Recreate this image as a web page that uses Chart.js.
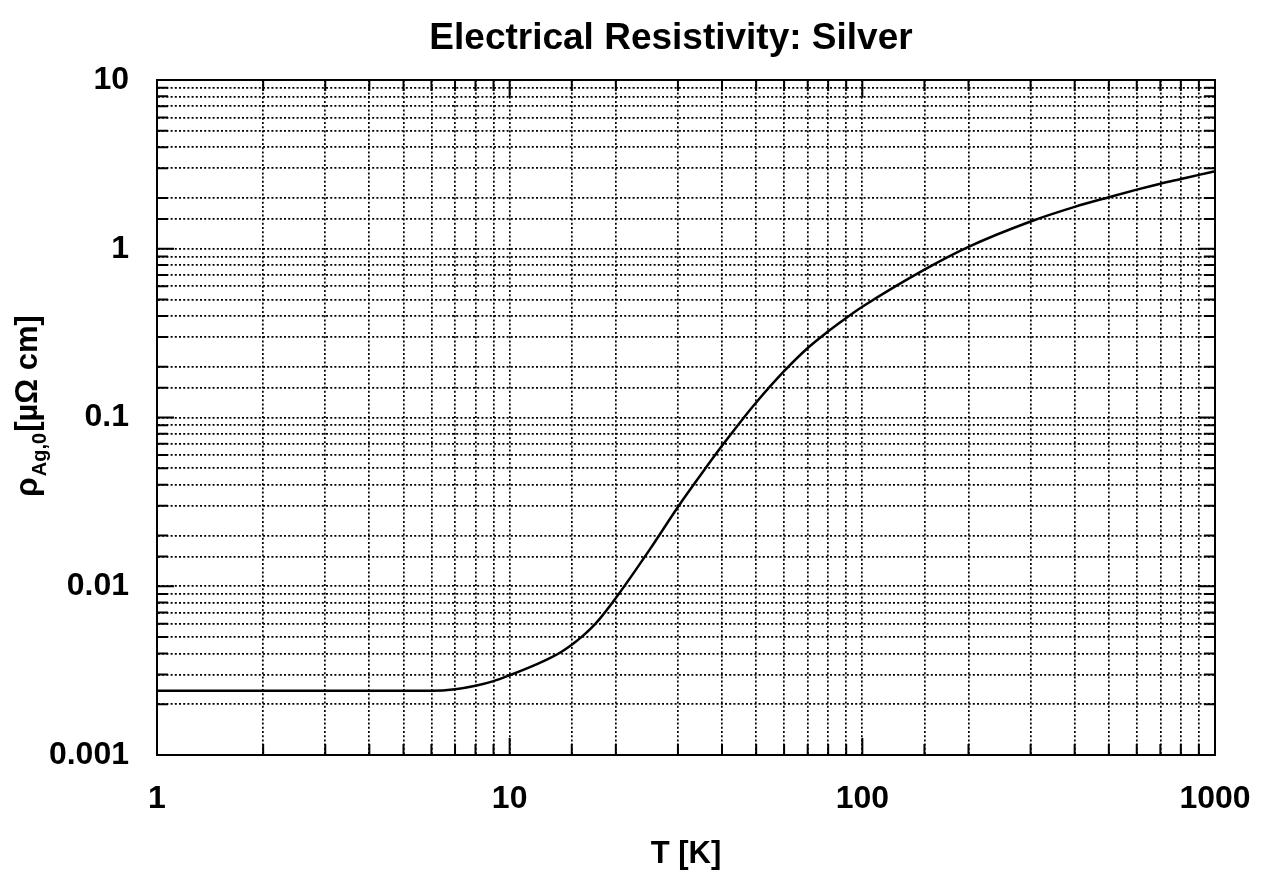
<!DOCTYPE html>
<html>
<head>
<meta charset="utf-8">
<title>Electrical Resistivity: Silver</title>
<script src="https://cdn.jsdelivr.net/npm/chart.js@4.4.1/dist/chart.umd.min.js"></script>
<style>
  html, body { margin: 0; padding: 0; background: #fff; }
  canvas { display: block; }
</style>
</head>
<body>
<canvas id="resistivityChart" width="1268" height="877"></canvas>
<script>
// temperature in K
const temperatures = [1, 2, 3, 4, 5, 6, 7, 8, 9, 10, 12, 13, 14, 15, 16, 17, 18, 20, 25, 30, 35, 40, 45, 50, 60, 70, 80, 90, 100, 150, 200, 300, 400, 500, 600, 700, 800, 900, 1000];
// resistivity of silver in µΩ cm
const resistivity = [0.00240, 0.00240, 0.00240, 0.00240, 0.00240, 0.00240, 0.00245, 0.00257, 0.00274, 0.00297, 0.00347, 0.00375, 0.00408, 0.0045, 0.00501, 0.00562, 0.00641, 0.00852, 0.0166, 0.0295, 0.0464, 0.0679, 0.0935, 0.1227, 0.188, 0.258, 0.324, 0.389, 0.453, 0.752, 1.026, 1.45, 1.77, 2.02, 2.24, 2.43, 2.59, 2.74, 2.88];

const xTickLabels = ['1', '10', '100', '1000'];
const yTickLabels = ['0.001', '0.01', '0.1', '1', '10'];

const titleText = 'Electrical Resistivity: Silver';
const xTitle = 'T [K]';
const FONT = '"Liberation Sans", Arial, Helvetica, sans-serif';

function isDecade(v) {
    const l = Math.log10(v);
    return Math.abs(l - Math.round(l)) < 1e-9;
}

function decadeLabel(list) {
    return function (value) {
        if (!isDecade(value)) return '';
        return list.find(s => Math.abs(Number(s) - value) < value * 1e-6) || '';
    };
}

// inward tick marks on all four sides, closed frame, title and the y axis label with subscript
const frameDecorations = {
    id: 'frameDecorations',
    afterDraw(chart) {
        const { ctx, chartArea, scales } = chart;
        const { left, right, top, bottom } = chartArea;
        ctx.save();
        ctx.strokeStyle = '#000';
        ctx.lineWidth = 2;
        ctx.beginPath();
        scales.x.ticks.forEach(t => {
            const px = scales.x.getPixelForValue(t.value);
            const len = isDecade(t.value) ? 17 : 11;
            ctx.moveTo(px, bottom); ctx.lineTo(px, bottom - len);
            ctx.moveTo(px, top); ctx.lineTo(px, top + len);
        });
        scales.y.ticks.forEach(t => {
            const py = scales.y.getPixelForValue(t.value);
            const len = isDecade(t.value) ? 17 : 11;
            ctx.moveTo(left, py); ctx.lineTo(left + len, py);
            ctx.moveTo(right, py); ctx.lineTo(right - len, py);
        });
        ctx.stroke();
        ctx.strokeRect(left, top, right - left, bottom - top);

        ctx.fillStyle = '#000';
        ctx.font = `bold 37px ${FONT}`;
        ctx.textAlign = 'center';
        ctx.textBaseline = 'alphabetic';
        ctx.fillText(titleText, (left + right) / 2 - 15, 49);

        ctx.translate(37, 497);
        ctx.rotate(-Math.PI / 2);
        ctx.textAlign = 'left';
        ctx.font = `bold 32px ${FONT}`;
        ctx.fillText('ρ', 0, 0);
        let w = ctx.measureText('ρ').width + 1;
        ctx.font = `bold 20px ${FONT}`;
        ctx.fillText('Ag,0', w, 9);
        w += ctx.measureText('Ag,0').width + 1;
        ctx.font = `bold 31px ${FONT}`;
        ctx.fillText('[µΩ cm]', w, 0);
        ctx.restore();
    }
};

const gridStyle = { color: '#000', lineWidth: 1.7, drawTicks: false };
const borderStyle = { display: true, color: '#000', width: 2, dash: [2, 2.2] };

new Chart(document.getElementById('resistivityChart'), {
    type: 'line',
    data: {
        datasets: [{
            data: temperatures.map((t, i) => ({ x: t, y: resistivity[i] })),
            borderColor: '#000',
            borderWidth: 2.5,
            pointRadius: 0,
            fill: false,
            cubicInterpolationMode: 'monotone'
        }]
    },
    options: {
        responsive: false,
        animation: false,
        layout: { padding: { top: 80, right: 53, left: 0, bottom: 0 } },
        plugins: {
            legend: { display: false },
            tooltip: { enabled: false },
            title: { display: false }
        },
        scales: {
            x: {
                type: 'logarithmic',
                min: 1,
                max: 1000,
                grid: gridStyle,
                border: borderStyle,
                ticks: {
                    autoSkip: false,
                    maxRotation: 0,
                    padding: 25,
                    color: '#000',
                    font: { family: FONT, size: 32, weight: 'bold' },
                    callback: decadeLabel(xTickLabels)
                },
                title: {
                    display: true,
                    text: xTitle,
                    color: '#000',
                    font: { family: FONT, size: 31, weight: 'bold' },
                    padding: { top: 4, bottom: 4 }
                },
                afterFit(scale) {
                    scale.height = 122;
                    scale.paddingLeft = 0;
                    scale.paddingRight = 0;
                }
            },
            y: {
                type: 'logarithmic',
                min: 0.001,
                max: 10,
                grid: gridStyle,
                border: borderStyle,
                ticks: {
                    autoSkip: false,
                    padding: 28,
                    color: '#000',
                    font: { family: FONT, size: 32, weight: 'bold' },
                    callback: decadeLabel(yTickLabels)
                },
                afterFit(scale) {
                    scale.width = 157;
                    scale.paddingTop = 0;
                    scale.paddingBottom = 0;
                }
            }
        }
    },
    plugins: [frameDecorations]
});
</script>
</body>
</html>
